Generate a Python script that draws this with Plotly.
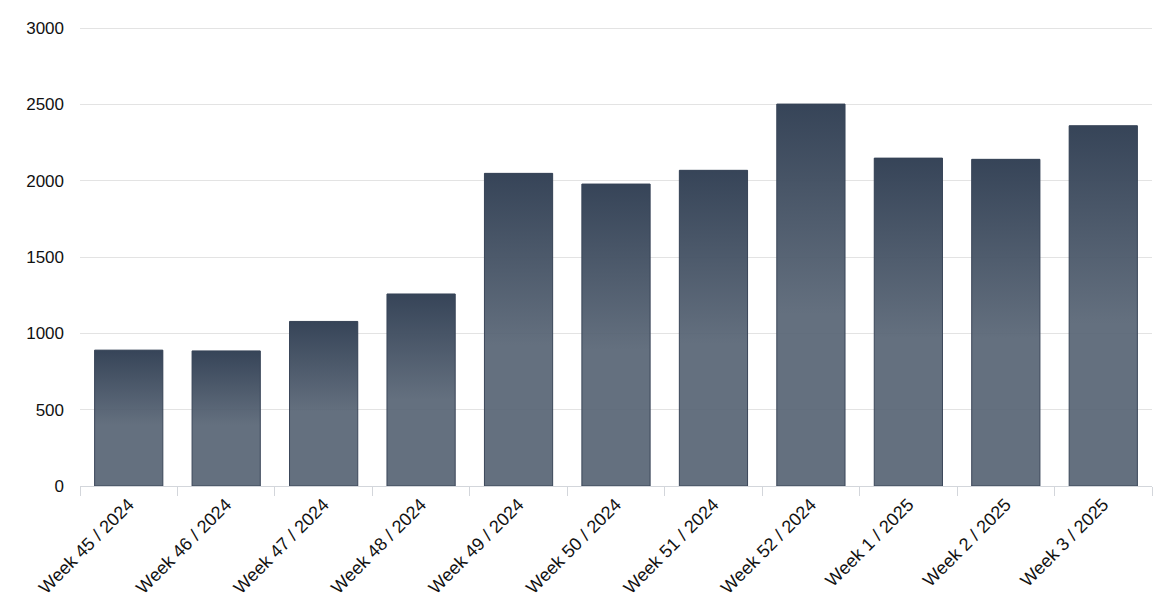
import plotly.graph_objects as go

categories = ["Week 45 / 2024", "Week 46 / 2024", "Week 47 / 2024", "Week 48 / 2024",
              "Week 49 / 2024", "Week 50 / 2024", "Week 51 / 2024", "Week 52 / 2024",
              "Week 1 / 2025", "Week 2 / 2025", "Week 3 / 2025"]
values = [890, 885, 1078, 1258, 2048, 1978, 2068, 2502, 2148, 2140, 2360]
y_ticks = [0, 500, 1000, 1500, 2000, 2500, 3000]

BAR_W = 0.70
positions = list(range(len(categories)))

fig = go.Figure()

# base bars (lighter tone)
fig.add_trace(go.Bar(
    x=positions, y=values, width=BAR_W,
    marker=dict(color="rgba(83,96,113,0.9)", line=dict(width=0)),
    hovertext=categories, hoverinfo="text+y", showlegend=False,
))

# darker gradient on the upper part of each bar
for i, v in enumerate(values):
    fig.add_trace(go.Scatter(
        x=[i - BAR_W / 2, i + BAR_W / 2, i + BAR_W / 2, i - BAR_W / 2, i - BAR_W / 2],
        y=[0, 0, v, v, 0],
        mode="lines", line=dict(width=0), fill="toself",
        fillgradient=dict(type="vertical", colorscale=[
            [0.0, "rgba(52,66,86,0)"],
            [0.45, "rgba(52,66,86,0)"],
            [1.0, "rgba(52,66,86,0.95)"],
        ]),
        hoverinfo="skip", showlegend=False,
    ))

# border drawn above gradient
fig.add_trace(go.Bar(
    x=positions, y=values, width=BAR_W,
    marker=dict(color="rgba(0,0,0,0)", line=dict(color="#3a4659", width=1)),
    hoverinfo="skip", showlegend=False,
))

fig.update_layout(
    width=1158, height=590,
    margin=dict(l=72, r=14, t=17, b=112),
    paper_bgcolor="white", plot_bgcolor="white",
    barmode="overlay",
    font=dict(family="Liberation Sans, Arial, sans-serif", color="#111111"),
)
fig.update_xaxes(
    range=[-0.5, len(categories) - 0.5], automargin=False,
    tickmode="array", tickvals=positions, ticktext=categories,
    tickangle=-45, tickfont=dict(size=18),
    ticks="", showgrid=False, zeroline=False,
    showline=True, linecolor="#d3d6db", linewidth=1,
    minor=dict(tickvals=[p - 0.5 for p in positions] + [len(categories) - 0.5],
               ticks="outside", ticklen=9, tickcolor="#d3d6db", tickwidth=1, showgrid=False),
)
fig.update_yaxes(
    range=[0, 3020], automargin=False, tickmode="array", tickvals=y_ticks,
    tickfont=dict(size=17), ticklabelstandoff=15,
    showgrid=True, gridcolor="#e3e3e3", gridwidth=1, zeroline=False,
    ticks="", showline=False,
)

fig.write_html("out.html")
